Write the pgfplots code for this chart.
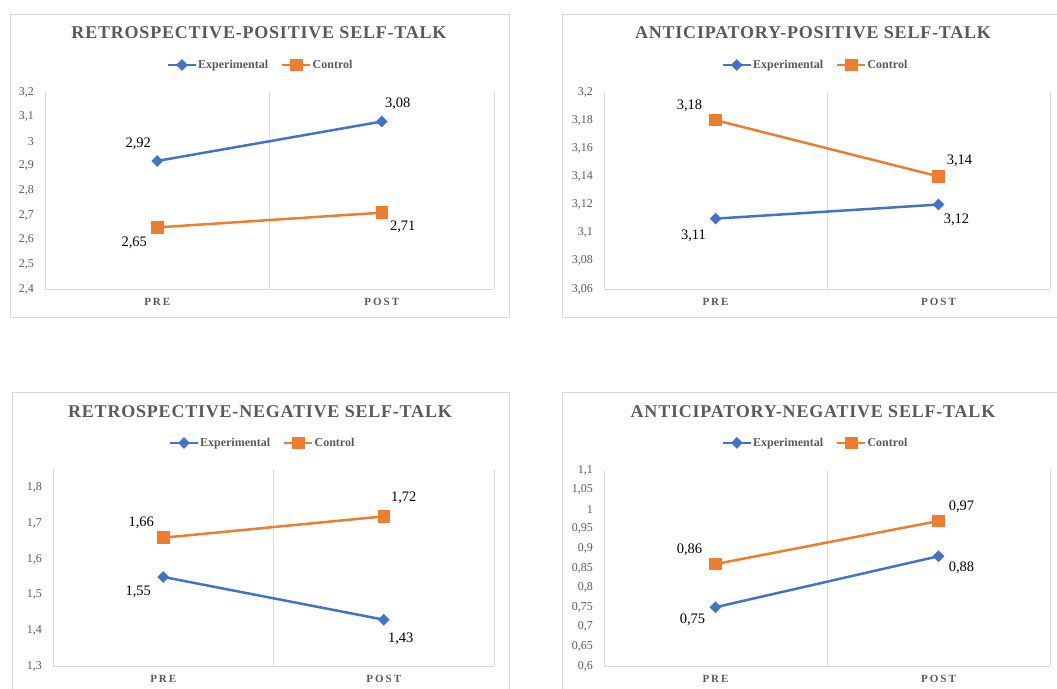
\documentclass[border=0pt]{standalone}
\usepackage{pgfplots}
\pgfplotsset{compat=1.18}
\usepackage{fontspec}
\setmainfont{Liberation Serif}
\newfontfamily\titlefont[LetterSpace=4.4]{Liberation Serif}
\newfontfamily\catfont[LetterSpace=18]{Liberation Serif}
\definecolor{expblue}{HTML}{4472C4}
\definecolor{ctrlorange}{HTML}{ED7D31}
\definecolor{txtgray}{HTML}{595959}
\definecolor{gridgray}{HTML}{D9D9D9}

\tikzset{dlab/.style={font=\fontsize{14.5bp}{14.5bp}\selectfont, text=black, inner sep=0pt}}
\pgfplotsset{
  panel/.style={
    scale only axis,
    xmin=0.5, xmax=2.5,
    xtick={1,2}, xticklabels={PRE,POST},
    axis lines*=left,
    y axis line style={draw=none},
    x axis line style={draw=gridgray, line width=0.75bp},
    major tick length=0pt,
    tick style={draw=none},
    extra x ticks={0.5,1.5,2.5},
    extra x tick labels={},
    extra x tick style={grid=major, major grid style={draw=gridgray, line width=0.75bp}},
    xticklabel style={font=\catfont\bfseries\fontsize{11bp}{11bp}\selectfont, text=txtgray, anchor=base, inner sep=0pt, yshift=-16.5bp},
    yticklabel style={font=\fontsize{12bp}{12bp}\selectfont, text=txtgray, anchor=east, inner sep=0pt, xshift=-11bp},
    scaled y ticks=false,
    /pgf/number format/.cd, use comma, 1000 sep={}, assume math mode=true,
    /pgfplots/.cd,
    clip=false,
    legend columns=2,
    legend style={draw=none, fill=none, anchor=center,
      font=\bfseries\fontsize{12bp}{12bp}\selectfont, text=txtgray,
      nodes={inner sep=1bp},
      /tikz/every even column/.append style={column sep=12bp}},
    legend image code/.code={\draw[##1, mark repeat=2, mark phase=2] plot coordinates {(0bp,0bp) (14bp,0bp) (28bp,0bp)};},
  },
  expline/.style={color=expblue, line width=2.5bp, mark=square*, mark size=2.9bp, mark options={rotate=45, solid, fill=expblue}},
  ctrlline/.style={color=ctrlorange, line width=2.5bp, mark=square*, mark size=5bp, mark options={solid, fill=ctrlorange}},
}

\begin{document}
\begin{tikzpicture}[x=1bp,y=1bp]
\useasboundingbox (0,0) rectangle (1057,689);
% frames
\draw[gridgray, line width=0.75bp] (10,675) rectangle (509,372);
\draw[gridgray, line width=0.75bp] (1057,675) -- (562,675) -- (562,372) -- (1057,372);
\draw[gridgray, line width=0.75bp] (12,0) -- (12,297) -- (509,297) -- (509,0);
\draw[gridgray, line width=0.75bp] (562,0) -- (562,297) -- (1057,297);
% titles
\node[font=\titlefont\bfseries\fontsize{18bp}{18bp}\selectfont, text=txtgray] at (259,656) {RETROSPECTIVE-POSITIVE SELF-TALK};
\node[font=\titlefont\bfseries\fontsize{18bp}{18bp}\selectfont, text=txtgray] at (813,656) {ANTICIPATORY-POSITIVE SELF-TALK};
\node[font=\titlefont\bfseries\fontsize{18bp}{18bp}\selectfont, text=txtgray] at (260,277) {RETROSPECTIVE-NEGATIVE SELF-TALK};
\node[font=\titlefont\bfseries\fontsize{18bp}{18bp}\selectfont, text=txtgray] at (813,277) {ANTICIPATORY-NEGATIVE SELF-TALK};

% Panel 1
\begin{axis}[panel, at={(45bp,400bp)}, anchor=south west, width=449bp, height=197bp,
  ymin=2.4, ymax=3.2, ytick={2.4,2.5,2.6,2.7,2.8,2.9,3,3.1,3.2},
  legend style={at={(0.479,1.137)}}]
\addplot[expline] coordinates {(1,2.92) (2,3.08)};
\addplot[ctrlline] coordinates {(1,2.65) (2,2.71)};
\legend{Experimental,Control}
\node[dlab] at (axis cs:1,2.92) [xshift=-19bp, yshift=17bp] {2,92};
\node[dlab] at (axis cs:2,3.08) [xshift=16bp, yshift=18bp] {3,08};
\node[dlab] at (axis cs:1,2.65) [xshift=-23bp, yshift=-15bp] {2,65};
\node[dlab] at (axis cs:2,2.71) [xshift=21bp, yshift=-14bp] {2,71};
\end{axis}

% Panel 2
\begin{axis}[panel, at={(604bp,400bp)}, anchor=south west, width=446bp, height=197bp,
  ymin=3.06, ymax=3.2, ytick={3.06,3.08,3.1,3.12,3.14,3.16,3.18,3.2},
  legend style={at={(0.473,1.137)}}]
\addplot[expline] coordinates {(1,3.11) (2,3.12)};
\addplot[ctrlline] coordinates {(1,3.18) (2,3.14)};
\legend{Experimental,Control}
\node[dlab] at (axis cs:1,3.18) [xshift=-26bp, yshift=14bp] {3,18};
\node[dlab] at (axis cs:2,3.14) [xshift=21bp, yshift=16bp] {3,14};
\node[dlab] at (axis cs:1,3.11) [xshift=-22bp, yshift=-17bp] {3,11};
\node[dlab] at (axis cs:2,3.12) [xshift=18bp, yshift=-15bp] {3,12};
\end{axis}

% Panel 3
\begin{axis}[panel, at={(53bp,23bp)}, anchor=south west, width=441bp, height=197bp,
  ymin=1.3, ymax=1.853, ytick={1.3,1.4,1.5,1.6,1.7,1.8},
  legend style={at={(0.474,1.132)}}]
\addplot[expline] coordinates {(1,1.55) (2,1.43)};
\addplot[ctrlline] coordinates {(1,1.66) (2,1.72)};
\legend{Experimental,Control}
\node[dlab] at (axis cs:1,1.66) [xshift=-22bp, yshift=15bp] {1,66};
\node[dlab] at (axis cs:2,1.72) [xshift=20bp, yshift=19bp] {1,72};
\node[dlab] at (axis cs:1,1.55) [xshift=-25bp, yshift=-15bp] {1,55};
\node[dlab] at (axis cs:2,1.43) [xshift=17bp, yshift=-19bp] {1,43};
\end{axis}

% Panel 4
\begin{axis}[panel, at={(604bp,23bp)}, anchor=south west, width=446bp, height=196bp,
  ymin=0.6, ymax=1.1, ytick={0.6,0.65,0.7,0.75,0.8,0.85,0.9,0.95,1,1.05,1.1},
  legend style={at={(0.473,1.138)}}]
\addplot[expline] coordinates {(1,0.75) (2,0.88)};
\addplot[ctrlline] coordinates {(1,0.86) (2,0.97)};
\legend{Experimental,Control}
\node[dlab] at (axis cs:1,0.86) [xshift=-26bp, yshift=14bp] {0,86};
\node[dlab] at (axis cs:2,0.97) [xshift=23bp, yshift=14bp] {0,97};
\node[dlab] at (axis cs:1,0.75) [xshift=-23bp, yshift=-13bp] {0,75};
\node[dlab] at (axis cs:2,0.88) [xshift=23bp, yshift=-12bp] {0,88};
\end{axis}
\end{tikzpicture}
\end{document}
